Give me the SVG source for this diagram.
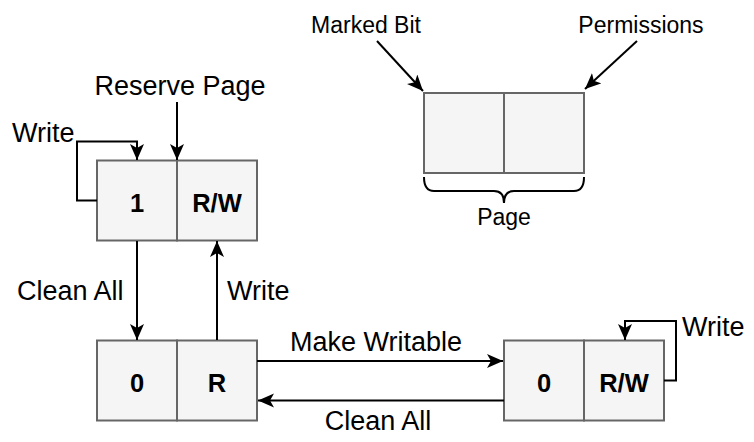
<svg xmlns="http://www.w3.org/2000/svg" width="754" height="442" viewBox="0 0 754 442">
<style>
.cell{fill:#f5f5f5;stroke:#666666;stroke-width:2}
.edge{fill:none;stroke:#000;stroke-width:2}
.lbl{font-family:"Liberation Sans",Arial,sans-serif;font-size:27px;fill:#000}
.small{font-family:"Liberation Sans",Arial,sans-serif;font-size:23px;fill:#000}
.bold{font-family:"Liberation Sans",Arial,sans-serif;font-size:25.5px;font-weight:bold;fill:#000;text-anchor:middle}
</style>
<defs>
<marker id="arr" markerUnits="userSpaceOnUse" markerWidth="18" markerHeight="16" refX="16" refY="7" orient="auto">
<path d="M0,0 L16,7 L0,14 L4,7 Z" fill="#000"/>
</marker>
</defs>
<rect width="754" height="442" fill="#fff"/>

<g id="node-top">
<rect class="cell" x="97" y="160.5" width="80" height="80"/>
<rect class="cell" x="177" y="160.5" width="80" height="80"/>
<text class="bold" x="137" y="211.5">1</text>
<text class="bold" x="217" y="211.5">R/W</text>
</g>

<g id="node-bottom-left">
<rect class="cell" x="97" y="340.5" width="80" height="80"/>
<rect class="cell" x="177" y="340.5" width="80" height="80"/>
<text class="bold" x="137" y="391.5">0</text>
<text class="bold" x="217" y="391.5">R</text>
</g>

<g id="node-bottom-right">
<rect class="cell" x="504" y="340.5" width="80" height="80"/>
<rect class="cell" x="584" y="340.5" width="80" height="80"/>
<text class="bold" x="544" y="391.5">0</text>
<text class="bold" x="624" y="391.5">R/W</text>
</g>

<g id="node-legend">
<rect class="cell" x="424" y="93" width="80" height="80"/>
<rect class="cell" x="504" y="93" width="80" height="80"/>
<path class="edge" d="M424,177 Q424,191 434,191 L494,191 Q504,191 504,203 Q504,191 514,191 L574,191 Q584,191 584,177"/>
<text class="small" x="504" y="225" text-anchor="middle">Page</text>
<text class="small" x="366" y="33" text-anchor="middle">Marked Bit</text>
<text class="small" x="641" y="33" text-anchor="middle">Permissions</text>
</g>

<g id="connectors">
<path class="edge" marker-end="url(#arr)" d="M177,102 L177,160"/>
<path class="edge" marker-end="url(#arr)" d="M97,200.5 L77,200.5 L77,141.5 L137,141.5 L137,160"/>
<path class="edge" marker-end="url(#arr)" d="M137,241 L137,340"/>
<path class="edge" marker-end="url(#arr)" d="M217,340 L217,241"/>
<path class="edge" marker-end="url(#arr)" d="M257,361 L503,361"/>
<path class="edge" marker-end="url(#arr)" d="M504,400.5 L258,400.5"/>
<path class="edge" marker-end="url(#arr)" d="M664,380.5 L676,380.5 L676,321 L625,321 L625,340"/>
<path class="edge" marker-end="url(#arr)" d="M377,41 L423,91"/>
<path class="edge" marker-end="url(#arr)" d="M637,41 L585,89"/>
</g>

<g id="labels">
<text class="lbl" x="180" y="95" text-anchor="middle">Reserve Page</text>
<text class="lbl" x="12" y="141.5">Write</text>
<text class="lbl" x="17" y="299.5">Clean All</text>
<text class="lbl" x="227" y="300">Write</text>
<text class="lbl" x="376" y="351" text-anchor="middle">Make Writable</text>
<text class="lbl" x="378" y="430" text-anchor="middle">Clean All</text>
<text class="lbl" x="682" y="335.5">Write</text>
</g>
</svg>
